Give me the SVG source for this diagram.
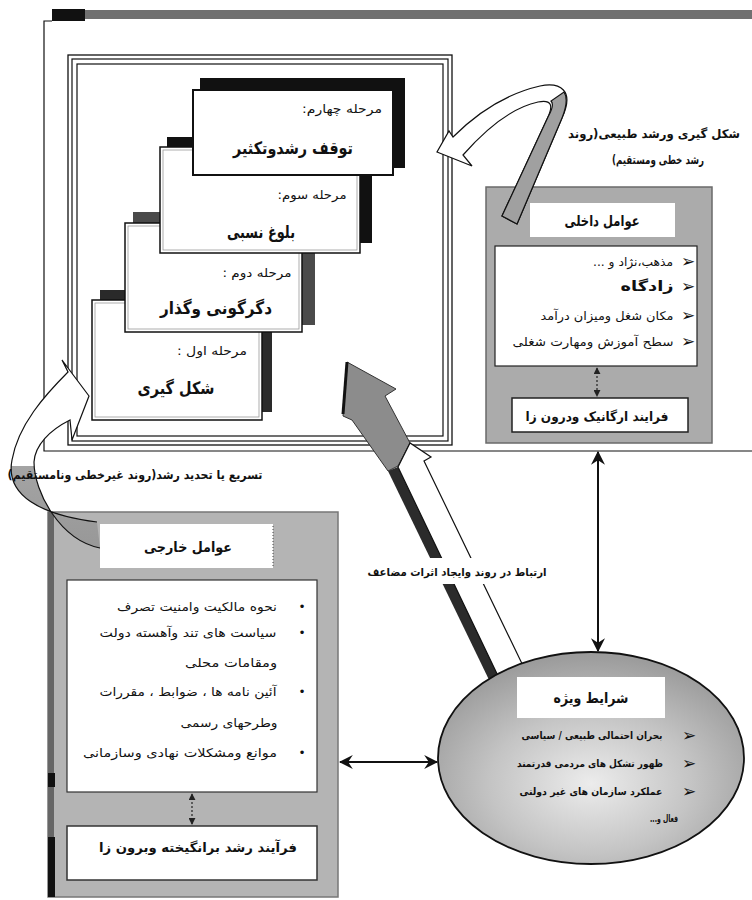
<svg xmlns="http://www.w3.org/2000/svg" width="752" height="900" viewBox="0 0 752 900">
<style>
text{font-family:'DejaVu Sans',sans-serif;fill:#111;direction:rtl;text-anchor:middle;}
.s{font-size:10px;}
.m{font-size:12px;}
.b{font-weight:bold;}
.bl{font-size:17px;direction:ltr;font-family:'DejaVu Sans',sans-serif;}
.ttl{font-size:17px;font-weight:bold;}
.ln{fill:none;stroke:#111;stroke-width:1.2;}
.wb{fill:#fff;stroke:#111;stroke-width:1.5;}
.in{fill:none;stroke:#999;stroke-width:0.8;}
.con{fill:none;stroke:#111;stroke-width:2;}
.dot{fill:none;stroke:#222;stroke-width:1.2;stroke-dasharray:2 2;}
</style>
<defs>
<marker id="ah" viewBox="0 0 12 12" refX="11" refY="6" markerWidth="14" markerHeight="14" markerUnits="userSpaceOnUse" orient="auto-start-reverse">
<path d="M0,0 L12,6 L0,12 L4,6 Z" fill="#111"/>
</marker>
<marker id="sm" viewBox="0 0 8 8" refX="7" refY="4" markerWidth="7" markerHeight="7" markerUnits="userSpaceOnUse" orient="auto-start-reverse">
<path d="M0,0 L8,4 L0,8 Z" fill="#222"/>
</marker>
<linearGradient id="lg" gradientUnits="userSpaceOnUse" x1="0" y1="440" x2="0" y2="560">
<stop offset="0.22" stop-color="#fff"/><stop offset="0.22" stop-color="#a4a4a4"/><stop offset="1" stop-color="#969696"/>
</linearGradient>
<radialGradient id="eg" cx="0.5" cy="0.62" r="0.6">
<stop offset="0" stop-color="#ececec"/><stop offset="0.55" stop-color="#c4c4c4"/><stop offset="1" stop-color="#9c9c9c"/>
</radialGradient>
</defs>
<rect width="752" height="900" fill="#fff"/>

<g id="frame">
<rect x="52" y="10" width="700" height="9" fill="#707070"/>
<rect x="52" y="9" width="33" height="12" fill="#111"/>
<path d="M52,21 L44,21 L44,451 L752,451" class="ln"/>
<rect x="68" y="55" width="384" height="390" fill="#fff" stroke="#111" stroke-width="1.3"/>
<rect x="72" y="59" width="376" height="382" class="ln"/>
<rect x="77" y="64" width="366" height="372" class="ln"/>
</g>

<g id="stage1">
<rect x="100" y="290" width="172" height="122" fill="#2a2a2a"/>
<rect x="92" y="300" width="170" height="120" class="wb"/>
<rect x="95" y="303" width="164" height="114" class="in"/>
<text x="212" y="355" class="m" textLength="70" lengthAdjust="spacingAndGlyphs">مرحله اول :</text>
<text x="176" y="394" class="ttl" textLength="77" lengthAdjust="spacingAndGlyphs">شکل گیری</text>
</g>

<g id="stage2">
<rect x="133" y="212" width="182" height="113" fill="#4a4a4a"/>
<rect x="125" y="223" width="177" height="109" class="wb"/>
<rect x="128" y="226" width="171" height="103" class="in"/>
<text x="257" y="277" class="m" textLength="69" lengthAdjust="spacingAndGlyphs">مرحله دوم :</text>
<text x="216" y="314" class="ttl" textLength="112" lengthAdjust="spacingAndGlyphs">دگرگونی وگذار</text>
</g>

<g id="stage3">
<rect x="167" y="137" width="205" height="106" fill="#111"/>
<rect x="160" y="147" width="200" height="106" class="wb"/>
<rect x="163" y="150" width="194" height="100" class="in"/>
<text x="312" y="199" class="m" textLength="69" lengthAdjust="spacingAndGlyphs">مرحله سوم:</text>
<text x="261" y="238" class="ttl" textLength="68" lengthAdjust="spacingAndGlyphs">بلوغ نسبی</text>
</g>

<g id="stage4">
<rect x="200" y="78" width="205" height="90" fill="#111"/>
<rect x="193" y="90" width="200" height="85" fill="#fff" stroke="#111" stroke-width="2"/>
<text x="342" y="113" class="m" textLength="80" lengthAdjust="spacingAndGlyphs">مرحله چهارم:</text>
<text x="293" y="154" class="ttl" textLength="120" lengthAdjust="spacingAndGlyphs">توقف رشدوتکثیر</text>
</g>

<g id="internal">
<rect x="486" y="187" width="226" height="256" fill="#ababab" stroke="#6a6a6a" stroke-width="1.5"/>
<rect x="530" y="203" width="145" height="34" fill="#fff"/>
<text x="602" y="226" class="b" font-size="15" textLength="75" lengthAdjust="spacingAndGlyphs">عوامل داخلی</text>
<rect x="495" y="246" width="202" height="120" fill="#fff" stroke="#222" stroke-width="1.2"/>
<text x="633" y="266" class="m" textLength="80" lengthAdjust="spacingAndGlyphs">مذهب،نژاد و ...</text>
<text x="647" y="291" class="b" font-size="14" textLength="53" lengthAdjust="spacingAndGlyphs">زادگاه</text>
<text x="607" y="320" class="m" textLength="133" lengthAdjust="spacingAndGlyphs">مکان شغل ومیزان درآمد</text>
<text x="593" y="346" class="m" textLength="161" lengthAdjust="spacingAndGlyphs">سطح آموزش ومهارت شغلی</text>
<text x="688" y="267" class="bl">➢</text>
<text x="688" y="292" class="bl">➢</text>
<text x="688" y="321" class="bl">➢</text>
<text x="688" y="347" class="bl">➢</text>
<line x1="597" y1="368" x2="597" y2="396" class="dot" marker-start="url(#sm)" marker-end="url(#sm)"/>
<rect x="512" y="398" width="176" height="34" fill="#fff" stroke="#222" stroke-width="1.5"/>
<text x="597" y="421" class="b" font-size="13" textLength="143" lengthAdjust="spacingAndGlyphs">فرایند ارگانیک ودرون زا</text>
</g>

<g id="external">
<rect x="48" y="512" width="290" height="385" fill="#b4b4b4" stroke="#777" stroke-width="1.5"/>
<rect x="48" y="512" width="6" height="385" fill="#666"/>
<rect x="48" y="773" width="7" height="14" fill="#111"/>
<rect x="48" y="837" width="7" height="60" fill="#111"/>
<rect x="100" y="524" width="173" height="44" fill="#fff"/>
<line x1="273" y1="526" x2="273" y2="566" stroke="#444" stroke-dasharray="1 2"/>
<text x="188" y="552" class="b" font-size="14" textLength="88" lengthAdjust="spacingAndGlyphs">عوامل خارجی</text>
<rect x="67" y="580" width="250" height="212" fill="#fff" stroke="#333" stroke-width="1.2"/>
<text x="197" y="611" class="m" textLength="160" lengthAdjust="spacingAndGlyphs">نحوه مالکیت وامنیت تصرف</text>
<text x="188" y="637" class="m" textLength="177" lengthAdjust="spacingAndGlyphs">سیاست های تند وآهسته دولت</text>
<text x="231" y="667" class="m" textLength="92" lengthAdjust="spacingAndGlyphs">ومقامات محلی</text>
<text x="188" y="696" class="m" textLength="177" lengthAdjust="spacingAndGlyphs">آئین نامه ها ، ضوابط ، مقررات</text>
<text x="229" y="727" class="m" textLength="97" lengthAdjust="spacingAndGlyphs">وطرحهای رسمی</text>
<text x="180" y="757" class="m" textLength="194" lengthAdjust="spacingAndGlyphs">موانع ومشکلات نهادی وسازمانی</text>
<text x="302" y="611" class="m">•</text>
<text x="302" y="637" class="m">•</text>
<text x="302" y="696" class="m">•</text>
<text x="302" y="757" class="m">•</text>
<line x1="192" y1="794" x2="192" y2="824" class="dot" marker-start="url(#sm)" marker-end="url(#sm)"/>
<rect x="67" y="826" width="250" height="54" fill="#fff" stroke="#333" stroke-width="1.5"/>
<text x="198" y="852" class="b" font-size="13" textLength="198" lengthAdjust="spacingAndGlyphs">فرآیند رشد برانگیخته وبرون زا</text>
</g>

<g id="connectors">
<path d="M517,224 L562,118 C575,90 560,82 540,86 C505,94 475,115 453,137 L449,131 L437,152 L472,166 L463,155 C485,130 510,108 538,102 C552,99 553,106 548,117 L502,216 Z" fill="#fff" stroke="#111" stroke-width="1.2"/>
<path d="M517,224 L562,118 C566,108 568,98 564,92 L551,101 C554,104 552,110 548,117 L502,216 Z" fill="#a0a0a0" stroke="#111" stroke-width="1.2"/>
<path d="M97,522 C40,515 5,495 12,460 C18,425 45,395 68,372 L62,360 L89,396 L72,440 L70,420 C50,430 35,445 34,462 C34,492 60,540 100,548" fill="url(#lg)" stroke="#111" stroke-width="1.2"/>
<polygon points="347,362 396,389 385,396 410,443 398,466 388,471 352,420 343,416" fill="#8c8c8c" stroke="#333" stroke-width="1"/>
<line x1="347" y1="362" x2="343" y2="414" stroke="#111" stroke-width="3"/>
<polygon points="388,471 398,467 502,682 492,686" fill="#2b2b2b"/>
<polygon points="398,467 410,443 431,457 424,461 527,674 500,680" fill="#fff" stroke="#111" stroke-width="1.2"/>
<rect x="365" y="558" width="190" height="26" fill="#fff"/>
<text x="457" y="576" class="b" font-size="11" textLength="179" lengthAdjust="spacingAndGlyphs">ارتباط در روند وایجاد اثرات مضاعف</text>
<line x1="598" y1="452" x2="598" y2="651" class="con" marker-start="url(#ah)" marker-end="url(#ah)"/>
<line x1="340" y1="762" x2="437" y2="762" class="con" marker-start="url(#ah)" marker-end="url(#ah)"/>
<text x="654" y="138" class="m b" textLength="172" lengthAdjust="spacingAndGlyphs">شکل گیری ورشد طبیعی(روند</text>
<text x="658" y="164" class="m b" textLength="92" lengthAdjust="spacingAndGlyphs">رشد خطی ومستقیم)</text>
<text x="135" y="479" class="m b" textLength="255" lengthAdjust="spacingAndGlyphs">تسریع یا تحدید رشد(روند غیرخطی ونامستقیم)</text>
</g>

<g id="special">
<ellipse cx="591" cy="758" rx="153" ry="106" fill="url(#eg)" stroke="#111" stroke-width="1.8"/>
<rect x="517" y="677" width="148" height="41" fill="#fff"/>
<text x="591" y="703" class="b" font-size="14" textLength="75" lengthAdjust="spacingAndGlyphs">شرایط ویژه</text>
<text x="592" y="739" class="s b" textLength="141" lengthAdjust="spacingAndGlyphs">بحران احتمالی طبیعی / سیاسی</text>
<text x="590" y="767" class="s b" textLength="146" lengthAdjust="spacingAndGlyphs">ظهور تشکل های مردمی قدرتمند</text>
<text x="591" y="795" class="s b" textLength="143" lengthAdjust="spacingAndGlyphs">عملکرد سازمان های غیر دولتی</text>
<text x="664" y="822" class="s b" textLength="28" lengthAdjust="spacingAndGlyphs">فعال و...</text>
<text x="689" y="741" class="bl">➢</text>
<text x="689" y="769" class="bl">➢</text>
<text x="689" y="797" class="bl">➢</text>
</g>
</svg>
